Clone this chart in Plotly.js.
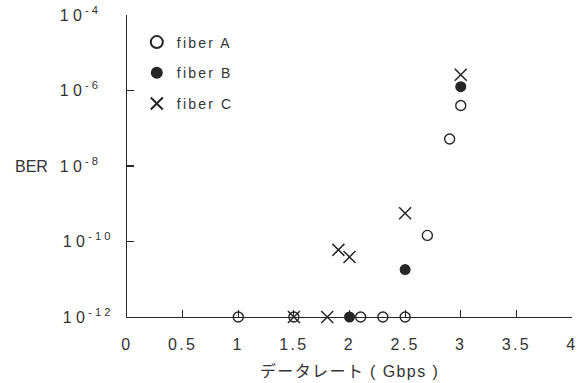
<!DOCTYPE html>
<html>
<head>
<meta charset="utf-8">
<script src="https://cdn.plot.ly/plotly-3.0.1.min.js"></script>
<style>
html,body{margin:0;padding:0;background:#fff;}
#chart{width:586px;height:383px;}
.legendtext{letter-spacing:2.2px;}
.xtick text{letter-spacing:2.4px;}
.xtitle{letter-spacing:1.4px;}
</style>
</head>
<body>
<div id="chart"></div>
<script>
// Data
const fiberA_x = [1.0, 1.5, 2.1, 2.3, 2.5, 2.7, 2.9, 3.0];
const fiberA_y = [1e-12, 1e-12, 1e-12, 1e-12, 1e-12, 1.45e-10, 5.2e-8, 4.0e-7];
const fiberB_x = [2.0, 2.5, 3.0];
const fiberB_y = [1e-12, 1.8e-11, 1.26e-6];
const fiberC_x = [1.5, 1.8, 1.9, 2.0, 2.5, 3.0];
const fiberC_y = [1e-12, 1e-12, 6.0e-11, 3.9e-11, 5.6e-10, 2.6e-6];

const seriesNames = ['fiber A', 'fiber B', 'fiber C'];
const xTickVals = [0, 0.5, 1, 1.5, 2, 2.5, 3, 3.5, 4];
const xTickText = ['0', '0.5', '1', '1.5', '2', '2.5', '3', '3.5', '4'];
const yTickVals = [1e-12, 1e-10, 1e-8, 1e-6, 1e-4];
const yTickText = ['1 0<sup> - 1 2</sup>', '1 0<sup> - 1 0</sup>', '1 0<sup> - 8\u2007\u2007</sup>', '1 0<sup> - 6\u2007\u2007</sup>', '1 0<sup> - 4\u2007\u2007</sup>'];
const yLabel = 'BER';
const xLabel = 'データレート ( Gbps )';

const ink = '#262626';
const font = 'Liberation Sans, Arial, Noto Sans CJK JP, sans-serif';

const traces = [
  {x: fiberA_x, y: fiberA_y, name: seriesNames[0], legendgroup: 'a', mode: 'markers', type: 'scatter', cliponaxis: false,
   marker: {symbol: 'circle-open', size: 10, color: ink, line: {width: 1.4, color: ink}}},
  {x: fiberB_x, y: fiberB_y, name: seriesNames[1], legendgroup: 'b', mode: 'markers', type: 'scatter', cliponaxis: false,
   marker: {symbol: 'circle', size: 11, color: ink, line: {width: 0}}},
  {x: fiberC_x, y: fiberC_y, name: seriesNames[2], legendgroup: 'c', mode: 'markers', type: 'scatter', cliponaxis: false,
   marker: {symbol: 'x-thin-open', size: 12, color: ink, line: {width: 1.5, color: ink}}}
];

const layout = {
  width: 586, height: 383,
  margin: {l: 127, r: 14, t: 15, b: 66},
  paper_bgcolor: '#fff', plot_bgcolor: '#fff',
  font: {family: font, size: 16, color: '#333'},
  showlegend: true,
  legend: {x: 0.022, y: 0.962, xanchor: 'left', yanchor: 'top', bgcolor: 'rgba(0,0,0,0)',
           font: {size: 14, color: '#333'}, tracegroupgap: 9.5, itemsizing: 'constant'},
  xaxis: {range: [0, 4], tickvals: xTickVals, ticktext: xTickText, ticks: 'inside', ticklen: 7,
          tickcolor: ink, tickwidth: 1.2, showline: true, linecolor: ink, linewidth: 1.3,
          showgrid: false, zeroline: false, ticklabelstandoff: 12,
          title: {text: xLabel, font: {size: 16, color: '#333'}, standoff: 14}},
  yaxis: {type: 'log', range: [-12, -4], tickvals: yTickVals, ticktext: yTickText, ticks: 'inside', ticklen: 7,
          tickcolor: ink, tickwidth: 1.2, showline: true, linecolor: ink, linewidth: 1.3,
          showgrid: false, zeroline: false, ticklabelstandoff: 12},
  annotations: [{text: yLabel, xref: 'paper', yref: 'paper', x: -0.2144, y: 0.5, xanchor: 'center', yanchor: 'middle',
                 showarrow: false, font: {size: 16, color: '#333'}}]
};

Plotly.newPlot('chart', traces, layout, {displayModeBar: false, staticPlot: true});
</script>
</body>
</html>
